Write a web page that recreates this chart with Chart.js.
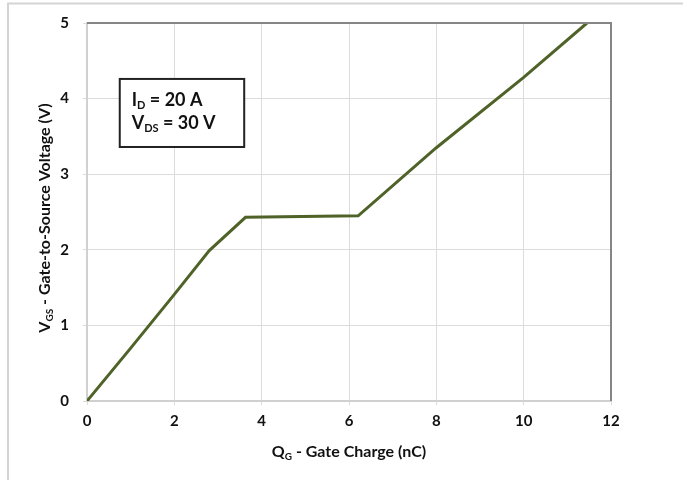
<!DOCTYPE html>
<html>
<head>
<meta charset="utf-8">
<script src="https://cdn.jsdelivr.net/npm/chart.js@4.4.1/dist/chart.umd.min.js"></script>
<style>
  html, body { margin: 0; padding: 0; background: #ffffff; }
  #wrap { position: relative; width: 683px; height: 480px; }
  canvas { display: block; }
</style>
</head>
<body>
<div id="wrap"><canvas id="c" width="683" height="480"></canvas></div>
<script>
// ---- data ----
const gateCharge = [0, 1, 2, 2.8, 3.63, 6.21, 8, 10, 11.45];      // nC
const gateVoltage = [0, 0.70, 1.41, 1.99, 2.43, 2.45, 3.35, 4.28, 5.0]; // V
const xTicks = [0, 2, 4, 6, 8, 10, 12];
const yTicks = [0, 1, 2, 3, 4, 5];
const noteLines = [
  [{t: 'I'}, {t: 'D', sub: true}, {t: ' = 20 A'}],
  [{t: 'V'}, {t: 'DS', sub: true}, {t: ' = 30 V'}]
];
const xTitle = [{t: 'Q'}, {t: 'G', sub: true}, {t: ' - Gate Charge (nC)'}];
const yTitle = [{t: 'V'}, {t: 'GS', sub: true}, {t: ' - Gate-to-Source Voltage (V)'}];
const noteBox = {x0: 0.75, x1: 3.6, y0: 3.36, y1: 4.26};

const FONT = 'Lato, "Open Sans", sans-serif';

function richWidth(ctx, parts, size) {
  let w = 0;
  for (const p of parts) {
    ctx.font = 'bold ' + (p.sub ? Math.round(size * 0.62) : size) + 'px ' + FONT;
    w += ctx.measureText(p.t).width;
  }
  return w;
}
function drawRich(ctx, parts, x, y, size, align) {
  let w = richWidth(ctx, parts, size);
  let cx = align === 'center' ? x - w / 2 : x;
  ctx.textAlign = 'left';
  ctx.textBaseline = 'alphabetic';
  for (const p of parts) {
    const s = p.sub ? Math.round(size * 0.62) : size;
    ctx.font = 'bold ' + s + 'px ' + FONT;
    ctx.fillText(p.t, cx, p.sub ? y + size * 0.18 : y);
    cx += ctx.measureText(p.t).width;
  }
}

const deco = {
  id: 'deco',
  beforeDraw(chart) {
    const ctx = chart.ctx;
    ctx.save();
    ctx.strokeStyle = '#d4d4d4';
    ctx.lineWidth = 2;
    ctx.beginPath();
    ctx.moveTo(8, 480); ctx.lineTo(8, 3.5); ctx.lineTo(683, 3.5);
    ctx.stroke();
    ctx.restore();
  },
  afterDraw(chart) {
    const ctx = chart.ctx;
    const a = chart.chartArea;
    const xs = chart.scales.x, ys = chart.scales.y;
    ctx.save();
    // darker top and right frame of the plot
    ctx.strokeStyle = '#858585';
    ctx.lineWidth = 2;
    ctx.beginPath();
    ctx.moveTo(a.left, a.top); ctx.lineTo(a.right, a.top); ctx.lineTo(a.right, a.bottom);
    ctx.stroke();
    // note box
    const bx0 = xs.getPixelForValue(noteBox.x0), bx1 = xs.getPixelForValue(noteBox.x1);
    const by0 = ys.getPixelForValue(noteBox.y1), by1 = ys.getPixelForValue(noteBox.y0);
    ctx.fillStyle = '#ffffff';
    ctx.fillRect(bx0, by0, bx1 - bx0, by1 - by0);
    ctx.strokeStyle = '#222222';
    ctx.lineWidth = 2;
    ctx.strokeRect(bx0, by0, bx1 - bx0, by1 - by0);
    ctx.fillStyle = '#111111';
    drawRich(ctx, noteLines[0], bx0 + 12, by0 + 27, 18, 'left');
    drawRich(ctx, noteLines[1], bx0 + 12, by0 + 50, 18, 'left');
    // axis titles
    ctx.fillStyle = '#111111';
    drawRich(ctx, xTitle, (a.left + a.right) / 2, 457, 16, 'center');
    ctx.translate(50, (a.top + a.bottom) / 2 + 6);
    ctx.rotate(-Math.PI / 2);
    drawRich(ctx, yTitle, 0, 0, 16, 'center');
    ctx.restore();
  }
};

new Chart(document.getElementById('c'), {
  type: 'scatter',
  data: {
    datasets: [{
      data: gateCharge.map((x, i) => ({x: x, y: gateVoltage[i]})),
      showLine: true,
      borderColor: '#4f6228',
      borderWidth: 3,
      pointRadius: 0,
      tension: 0,
      fill: false
    }]
  },
  options: {
    responsive: false,
    animation: false,
    layout: { padding: { left: 0, right: 72, top: 22, bottom: 0 } },
    plugins: { legend: { display: false }, tooltip: { enabled: false } },
    scales: {
      x: {
        type: 'linear', min: 0, max: 12,
        afterBuildTicks(s) { s.ticks = xTicks.map(v => ({value: v})); },
        afterFit(s) { s.height = 79; },
        grid: { color: '#dcdcdc', lineWidth: 1, tickLength: 4, drawTicks: true },
        border: { color: '#d0d0d0', width: 2 },
        ticks: { color: '#111111', padding: 7, font: { family: FONT, size: 15, weight: 'bold' } }
      },
      y: {
        type: 'linear', min: 0, max: 5,
        afterBuildTicks(s) { s.ticks = yTicks.map(v => ({value: v})); },
        afterFit(s) { s.width = 87; },
        grid: { color: '#dcdcdc', lineWidth: 1, tickLength: 4, drawTicks: true },
        border: { color: '#d0d0d0', width: 2 },
        ticks: { color: '#111111', padding: 14, font: { family: FONT, size: 15, weight: 'bold' } }
      }
    }
  },
  plugins: [deco]
});
</script>
</body>
</html>
